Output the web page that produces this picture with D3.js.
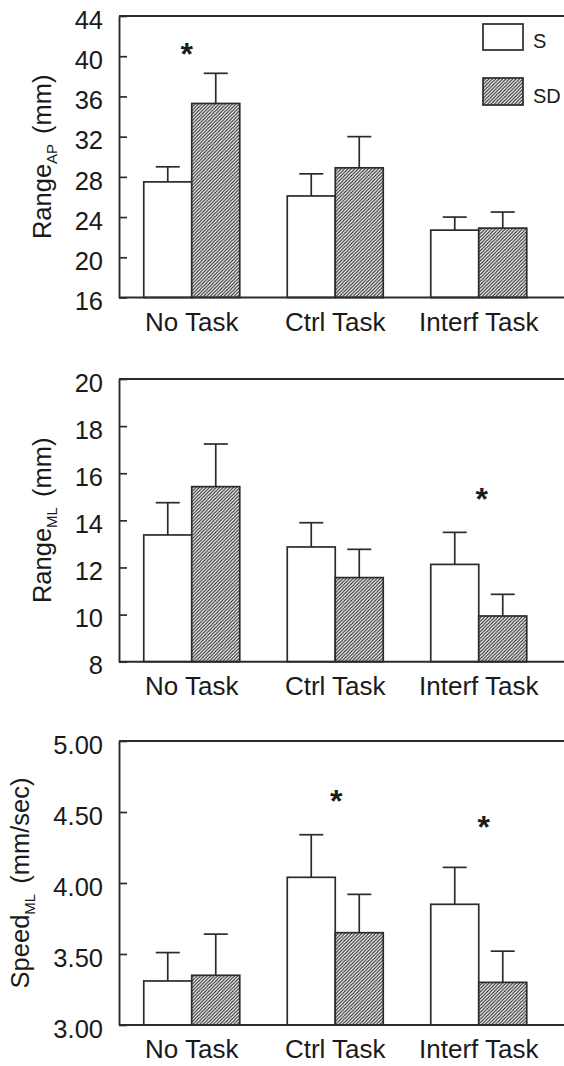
<!DOCTYPE html>
<html>
<head>
<meta charset="utf-8">
<script src="https://cdn.jsdelivr.net/npm/d3@7"></script>
<style>
  html, body { margin: 0; padding: 0; background: #fff; }
  svg { display: block; font-family: "Liberation Sans", Arial, sans-serif; }
</style>
</head>
<body>
<script>
// Task conditions and stance groups
const groups = ["No Task", "Ctrl Task", "Interf Task"];
const series = ["S", "SD"];

// Range AP (mm): means and upper SEM
const apS = [27.5, 26.1, 22.7];
const apSErr = [1.5, 2.2, 1.3];
const apSD = [35.3, 28.9, 22.9];
const apSDErr = [3.0, 3.1, 1.6];
const apTicks = [16, 20, 24, 28, 32, 36, 40, 44];
const apStars = [{ group: 0, level: 41.1, dx: -5 }];

// Range ML (mm)
const mlS = [13.38, 12.87, 12.13];
const mlSErr = [1.37, 1.03, 1.36];
const mlSD = [15.43, 11.57, 9.94];
const mlSDErr = [1.81, 1.2, 0.92];
const mlTicks = [8, 10, 12, 14, 16, 18, 20];
const mlStars = [{ group: 2, level: 15.3, dx: 3 }];

// Speed ML (mm/sec)
const spS = [3.31, 4.04, 3.85];
const spSErr = [0.2, 0.3, 0.26];
const spSD = [3.35, 3.65, 3.30];
const spSDErr = [0.29, 0.27, 0.22];
const spTicks = [3.0, 3.5, 4.0, 4.5, 5.0];
const spStars = [{ group: 1, level: 4.64, dx: 1 }, { group: 2, level: 4.46, dx: 5 }];

const W = 564, H = 1066;
const axisX = 119;
const ink = "#2b2b2b";
const textInk = "#1a1a1a";

const svg = d3.select("body").append("svg")
  .attr("width", W).attr("height", H);

// diagonal hatch for the SD bars
const defs = svg.append("defs");
const pat = defs.append("pattern")
  .attr("id", "hatch")
  .attr("patternUnits", "userSpaceOnUse")
  .attr("width", 3.4).attr("height", 3.4);
pat.append("rect").attr("width", 3.4).attr("height", 3.4).attr("fill", "#fff");
pat.append("path")
  .attr("d", "M-1,1 l2,-2 M0,3.4 l3.4,-3.4 M2.4,4.4 l2,-2")
  .attr("stroke", "#2a2a2a").attr("stroke-width", 1.1);

const xGroup = d3.scaleBand().domain(groups).range([120, 550.5]);
const xSeries = d3.scaleBand().domain(series).range([-48, 48]);
const fills = { S: "#fff", SD: "url(#hatch)" };

const panels = [
  { domain: [16, 44], range: [297.5, 16], ticks: apTicks, fmt: d3.format("d"),
    S: apS, SErr: apSErr, SD: apSD, SDErr: apSDErr, stars: apStars,
    title: "Range", sub: "AP", unit: "(mm)", titleX: 51 },
  { domain: [8, 20], range: [661.7, 379], ticks: mlTicks, fmt: d3.format("d"),
    S: mlS, SErr: mlSErr, SD: mlSD, SDErr: mlSDErr, stars: mlStars,
    title: "Range", sub: "ML", unit: "(mm)", titleX: 51 },
  { domain: [3, 5], range: [1025, 741], ticks: spTicks, fmt: d3.format(".2f"),
    S: spS, SErr: spSErr, SD: spSD, SDErr: spSDErr, stars: spStars,
    title: "Speed", sub: "ML", unit: "(mm/sec)", titleX: 29 }
];

panels.forEach(p => {
  const y = d3.scaleLinear().domain(p.domain).range(p.range);
  const g = svg.append("g");
  const yTop = p.range[1], yBot = p.range[0];

  // bars with upper error bars
  series.forEach(s => {
    const vals = p[s], errs = p[s + "Err"];
    const bars = g.append("g");
    groups.forEach((grp, i) => {
      const x0 = xGroup(grp) + xGroup.bandwidth() / 2 + xSeries(s);
      const cx = x0 + xSeries.bandwidth() / 2;
      bars.append("line")
        .attr("x1", cx).attr("x2", cx)
        .attr("y1", y(vals[i])).attr("y2", y(vals[i] + errs[i]))
        .attr("stroke", ink).attr("stroke-width", 1.7);
      bars.append("line")
        .attr("x1", cx - 12).attr("x2", cx + 12)
        .attr("y1", y(vals[i] + errs[i])).attr("y2", y(vals[i] + errs[i]))
        .attr("stroke", ink).attr("stroke-width", 1.7);
      bars.append("rect")
        .attr("x", x0).attr("width", xSeries.bandwidth())
        .attr("y", y(vals[i])).attr("height", y(p.domain[0]) - y(vals[i]))
        .attr("fill", fills[s])
        .attr("stroke", ink).attr("stroke-width", 1.7);
    });
  });

  // frame: top and bottom lines run off the right edge
  g.append("line").attr("x1", axisX).attr("x2", W + 10)
    .attr("y1", yTop).attr("y2", yTop)
    .attr("stroke", ink).attr("stroke-width", 1.9);
  g.append("line").attr("x1", axisX).attr("x2", W + 10)
    .attr("y1", yBot).attr("y2", yBot)
    .attr("stroke", ink).attr("stroke-width", 1.9);

  // left axis with inward ticks
  const ax = g.append("g")
    .attr("transform", `translate(${axisX},0)`)
    .call(d3.axisLeft(y).tickValues(p.ticks).tickFormat(p.fmt)
      .tickSizeInner(-8).tickSizeOuter(0).tickPadding(16));
  ax.select(".domain").attr("stroke", ink).attr("stroke-width", 1.9);
  ax.selectAll(".tick line").attr("stroke", ink).attr("stroke-width", 1.7);
  ax.selectAll(".tick text")
    .attr("font-size", 25.5).attr("fill", textInk)
    .attr("font-family", "Liberation Sans, Arial, sans-serif")
    .attr("dy", "0.48em");

  // category labels
  g.selectAll(".cat").data(groups).enter().append("text")
    .attr("class", "cat")
    .attr("x", d => xGroup(d) + xGroup.bandwidth() / 2)
    .attr("y", yBot + 33)
    .attr("text-anchor", "middle")
    .attr("font-size", 26).attr("fill", textInk)
    .text(d => d);

  // significance markers
  g.selectAll(".star").data(p.stars).enter().append("text")
    .attr("x", d => xGroup(groups[d.group]) + xGroup.bandwidth() / 2 + d.dx)
    .attr("y", d => y(d.level))
    .attr("dy", "0.62em")
    .attr("text-anchor", "middle")
    .attr("font-size", 32).attr("font-weight", "bold").attr("fill", textInk)
    .text("*");

  // y-axis title
  const cy = (yTop + yBot) / 2;
  const t = g.append("text")
    .attr("transform", `translate(${p.titleX},${cy}) rotate(-90)`)
    .attr("text-anchor", "middle")
    .attr("font-size", 25.5).attr("fill", textInk);
  t.append("tspan").text(p.title);
  t.append("tspan").attr("font-size", 15).attr("dy", 6).text(p.sub);
  t.append("tspan").attr("dy", -6).attr("dx", 10).text(p.unit);
});

// legend
const legend = svg.append("g");
const legendRows = [{ key: "S", y: 24, h: 26, ty: 48 }, { key: "SD", y: 78, h: 27, ty: 103 }];
legendRows.forEach(r => {
  legend.append("rect")
    .attr("x", 483).attr("y", r.y).attr("width", 40).attr("height", r.h)
    .attr("fill", fills[r.key]).attr("stroke", ink).attr("stroke-width", 1.7);
  legend.append("text")
    .attr("x", 533).attr("y", r.ty)
    .attr("font-size", 20).attr("fill", textInk)
    .text(r.key);
});
</script>
</body>
</html>
